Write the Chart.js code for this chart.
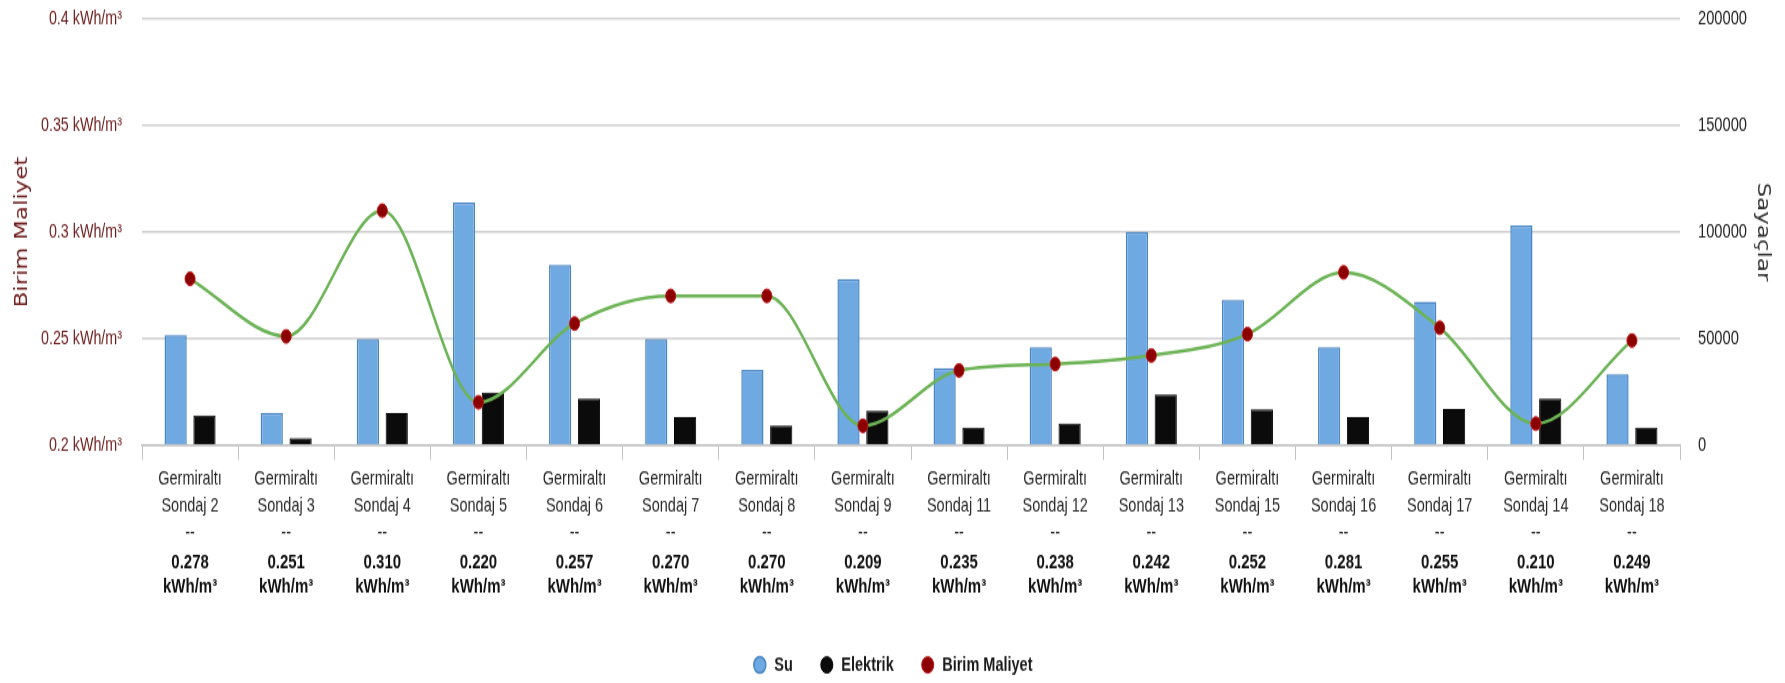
<!DOCTYPE html>
<html lang="tr">
<head>
<meta charset="utf-8">
<title>Birim Maliyet</title>
<script src="https://cdn.jsdelivr.net/npm/chart.js@4.4.1/dist/chart.umd.min.js"></script>
<style>
  html { overflow: hidden; }
  html, body { margin: 0; padding: 0; background: #fff; }
  body { height: 683px; }
  /* the chart is drawn on a shorter canvas and stretched to full height,
     which gives the tall, narrow lettering and oval markers */
  #wrap { width: 1785px; height: 506px; transform: scaleY(1.3498); transform-origin: 0 0; }
</style>
</head>
<body>
<div id="wrap"><canvas id="chart" width="1785" height="506"></canvas></div>
<script>
// Kuyu bazında su (m³), elektrik (kWh) ve birim maliyet (kWh/m³)
const wells = [
  "Sondaj 2", "Sondaj 3", "Sondaj 4", "Sondaj 5", "Sondaj 6", "Sondaj 7", "Sondaj 8", "Sondaj 9",
  "Sondaj 11", "Sondaj 12", "Sondaj 13", "Sondaj 15", "Sondaj 16", "Sondaj 17", "Sondaj 14", "Sondaj 18",
];
const suValues = [
  51500, 14900, 49600, 113800, 84500, 49600, 35200, 77900,
  36000, 45900, 100100, 68100, 45900, 67300, 103000, 33200,
];
const elektrikValues = [
  13900, 3300, 14900, 24700, 21700, 13000, 9100, 16000,
  8100, 10000, 23600, 16700, 13000, 16900, 21700, 8100,
];
const birimMaliyet = [
  0.278, 0.251, 0.310, 0.220, 0.257, 0.270, 0.270, 0.209,
  0.235, 0.238, 0.242, 0.252, 0.281, 0.255, 0.210, 0.249,
];
const costTicks = [0.2, 0.25, 0.3, 0.35, 0.4];
const counterTicks = [0, 50000, 100000, 150000, 200000];

const SANS = '"Liberation Sans", Arial, sans-serif';
const TITLE_FONT = '"DejaVu Sans", sans-serif';
const GRID = "#d0d0d0";
const AXIS = "#c2c2c2";
const MAROON = "#6e1c1c";

// the legend needs wide gaps between items (labels.padding), which also
// makes its box tall; trim the box a bit so the items sit near the bottom edge
const legendTrim = {
  id: "legendTrim",
  beforeInit(chart) {
    const fit = chart.legend.fit;
    chart.legend.fit = function () {
      fit.call(this);
      this.height -= 3.85;
    };
  },
};

new Chart(document.getElementById("chart"), {
  type: "bar",
  data: {
    labels: wells,
    datasets: [
      {
        label: "Su",
        data: suValues,
        yAxisID: "y1",
        backgroundColor: "#6fa9e2",
        borderColor: "#4a86c4",
        borderWidth: 1.5,
        categoryPercentage: 0.6,
        barPercentage: 0.77,
        order: 1,
      },
      {
        label: "Elektrik",
        data: elektrikValues,
        yAxisID: "y1",
        backgroundColor: "#0b0b0b",
        borderColor: "#000",
        borderWidth: 1,
        categoryPercentage: 0.6,
        barPercentage: 0.77,
        order: 1,
      },
      {
        type: "line",
        label: "Birim Maliyet",
        data: birimMaliyet,
        yAxisID: "y",
        borderColor: "#6cb356",
        backgroundColor: "#8b0000",
        borderWidth: 2.5,
        cubicInterpolationMode: "monotone",
        pointRadius: 5,
        pointBackgroundColor: "#8b0000",
        pointBorderColor: "#c21010",
        pointBorderWidth: 1,
        order: 0,
      },
    ],
  },
  plugins: [legendTrim],
  options: {
    responsive: false,
    animation: false,
    layout: { padding: { top: 14.1, right: 0, bottom: 0, left: 0 } },
    plugins: {
      tooltip: { enabled: false },
      legend: {
        position: "bottom",
        labels: {
          usePointStyle: true,
          pointStyle: "circle",
          boxHeight: 8.5,
          padding: 26.75,
          color: "#1a1a1a",
          font: { family: SANS, size: 14.5, weight: "bold" },
          sort: (a, b) => a.datasetIndex - b.datasetIndex,
        },
      },
    },
    scales: {
      x: {
        offset: true,
        grid: { offset: true, drawOnChartArea: false, drawTicks: true, tickLength: 11, color: AXIS },
        border: { color: AXIS, width: 1.5 },
        ticks: {
          autoSkip: false,
          maxRotation: 0,
          padding: 5,
          color: "#2a2a2a",
          font: { family: SANS, size: 14.5, lineHeight: 1.35 },
          callback: (v, i) => ["Germiraltı", wells[i], "--"],
        },
        afterFit: s => { s.height = 75.5; },
      },
      x2: {
        type: "category",
        position: "bottom",
        offset: true,
        grid: { display: false, drawTicks: false },
        border: { display: false },
        ticks: {
          autoSkip: false,
          maxRotation: 0,
          padding: 3.5,
          color: "#111",
          font: { family: SANS, size: 15, weight: "bold", lineHeight: 1.15 },
          callback: (v, i) => [birimMaliyet[i].toFixed(3), "kWh/m³"],
        },
        afterFit: s => { s.height = 53.5; },
      },
      y: {
        position: "left",
        min: 0.2,
        max: 0.4,
        afterBuildTicks: s => { s.ticks = costTicks.map(v => ({ value: v })); },
        grid: { color: GRID, lineWidth: 1.5, drawTicks: true, tickLength: 15, tickColor: "rgba(0,0,0,0)" },
        border: { display: false },
        ticks: {
          padding: 5,
          color: MAROON,
          font: { family: SANS, size: 14.3 },
          callback: v => `${Number(v.toFixed(2))} kWh/m³`,
        },
        title: {
          display: true,
          text: "Birim Maliyet",
          color: MAROON,
          padding: { top: 12, bottom: 0 },
          font: { family: TITLE_FONT, size: 17 },
        },
        afterFit: s => { s.width = 142; },
      },
      y1: {
        position: "right",
        min: 0,
        max: 200000,
        afterBuildTicks: s => { s.ticks = counterTicks.map(v => ({ value: v })); },
        grid: { drawOnChartArea: false, drawTicks: true, tickLength: 13, tickColor: "rgba(0,0,0,0)" },
        border: { display: false },
        ticks: {
          padding: 5,
          color: "#222",
          font: { family: SANS, size: 14.7 },
          callback: v => String(v),
        },
        title: {
          display: true,
          text: "Sayaçlar",
          color: "#333",
          padding: { top: 12, bottom: 0 },
          font: { family: TITLE_FONT, size: 17 },
        },
        afterFit: s => { s.width = 105; },
      },
    },
  },
});
</script>
</body>
</html>
